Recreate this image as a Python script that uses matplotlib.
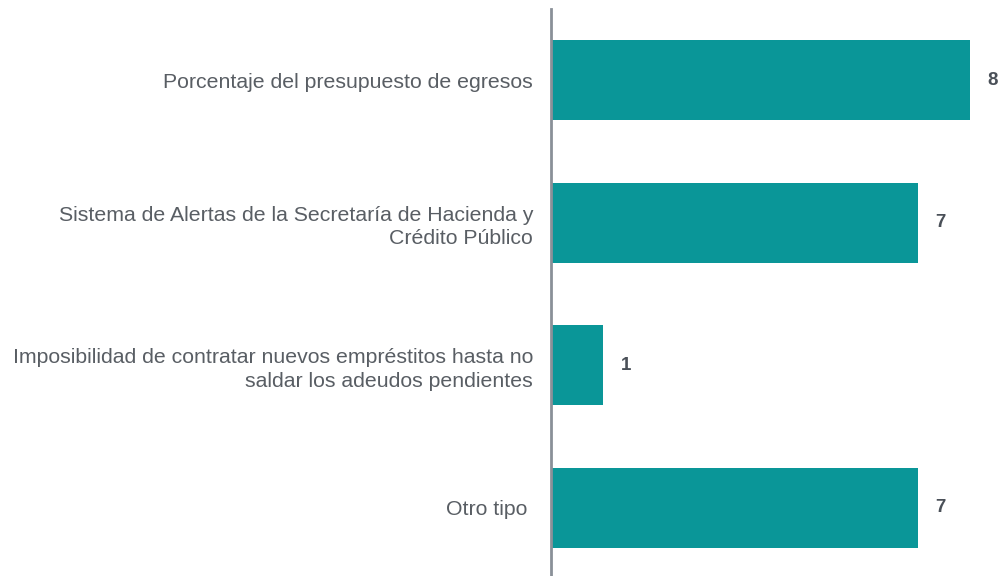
import matplotlib
matplotlib.use("Agg")
import matplotlib.pyplot as plt

categories = [
    "Porcentaje del presupuesto de egresos",
    "Sistema de Alertas de la Secretaría de Hacienda y\nCrédito Público",
    "Imposibilidad de contratar nuevos empréstitos hasta no\nsaldar los adeudos pendientes",
    "Otro tipo ",
]
values = [8, 7, 1, 7]

plt.rcParams["font.family"] = ["Liberation Sans", "DejaVu Sans"]

fig = plt.figure(figsize=(10, 5.76), dpi=100)
ax = fig.add_axes([0.551, -0.0057, 0.449, 0.9906])

ypos = list(range(len(categories)))
ax.barh(ypos, values, height=0.56, color="#0a9698")
ax.set_ylim(len(categories) - 0.5, -0.5)
ax.set_xlim(0, 8.57)

for y, v in zip(ypos, values):
    ax.text(v + 0.33, y, str(v), va="center", ha="left", fontsize=13.5,
            fontweight="bold", color="#4a5058")

ax.set_yticks(ypos)
ax.set_yticklabels(categories, fontsize=15.3, color="#595e64", linespacing=1.32)
ax.tick_params(axis="y", length=0, pad=13)
ax.set_xticks([])
for s in ["top", "right", "bottom"]:
    ax.spines[s].set_visible(False)
ax.spines["left"].set_color("#8a9098")
ax.spines["left"].set_linewidth(2)

fig.savefig("out.png", dpi=100)
